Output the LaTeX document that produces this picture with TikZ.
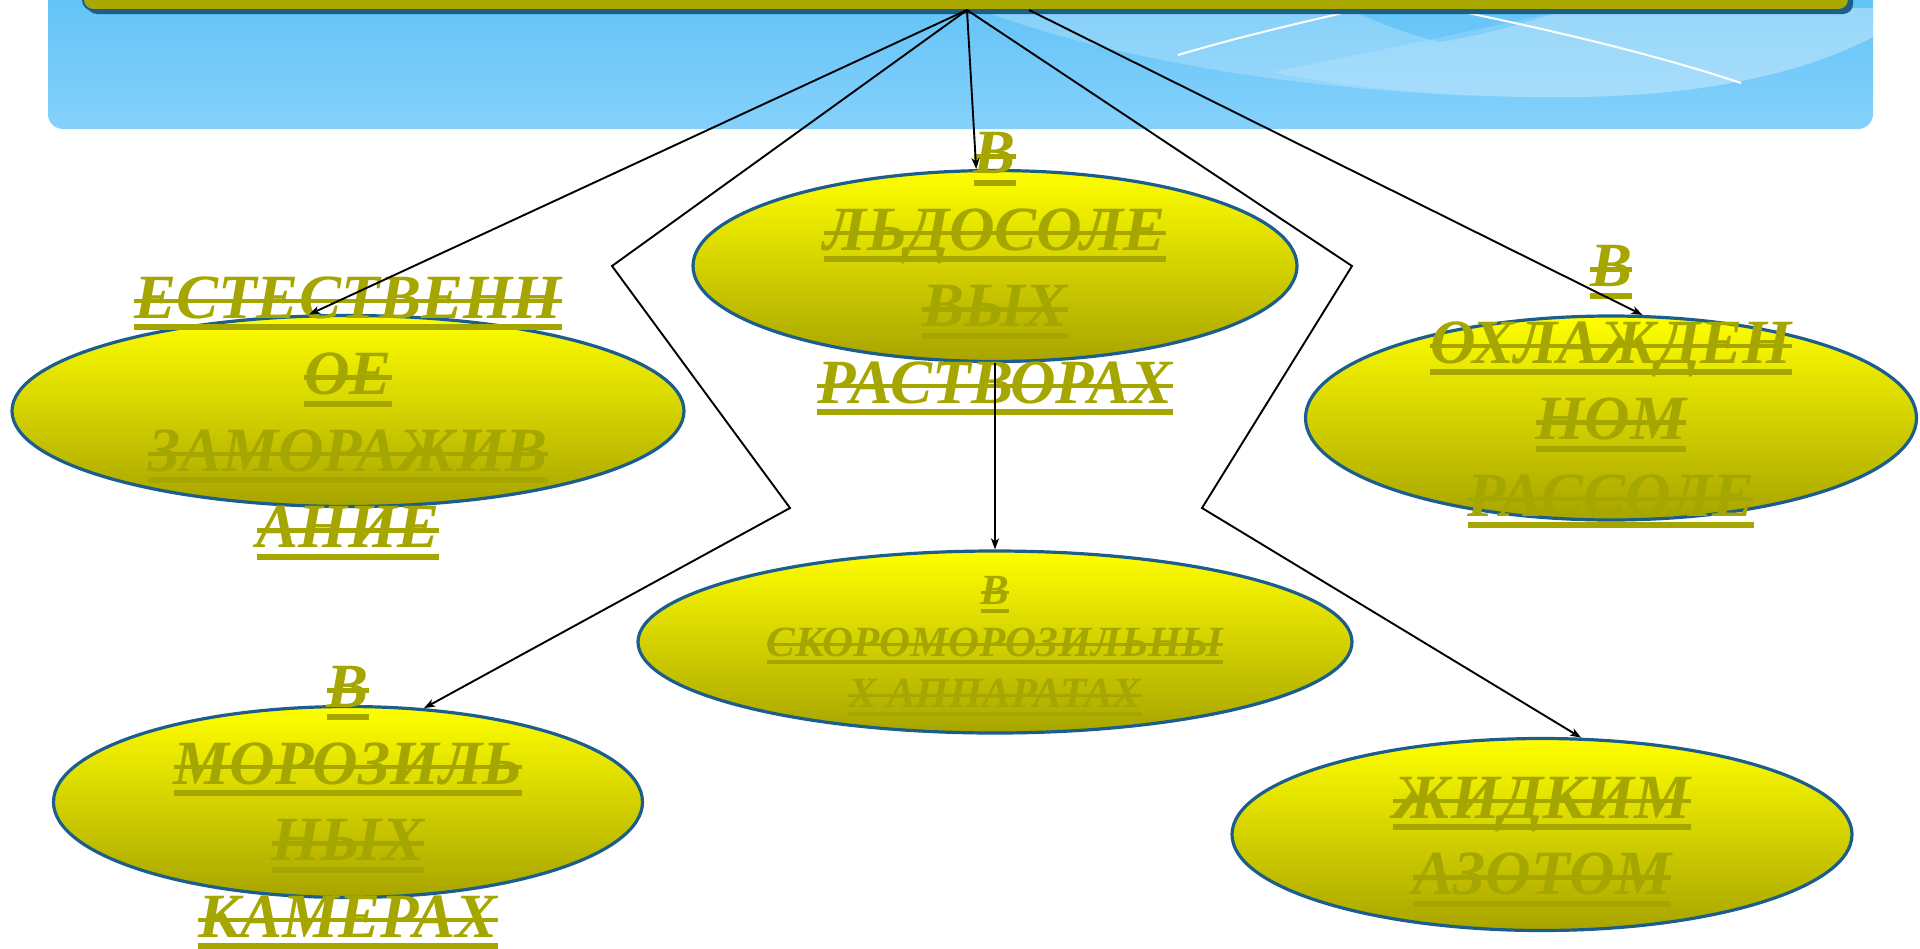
\documentclass[tikz,border=0pt]{standalone}
\usepackage{fontspec}
\setmainfont{Liberation Serif}
\usetikzlibrary{shapes.geometric,arrows.meta}
\definecolor{olivetxt}{HTML}{A6A600}
\definecolor{barfill}{HTML}{A8A800}
\definecolor{edgeblue}{HTML}{1B5E8C}
\definecolor{skytop}{HTML}{5EC1F6}
\definecolor{skybot}{HTML}{85D1FC}
\definecolor{yeltop}{HTML}{FFFF00}
\definecolor{yelbot}{HTML}{A8A400}
\newlength\uswd
\newcommand\ust[1]{\settowidth\uswd{#1}\makebox[0pt][l]{\rule[-0.19em]{\uswd}{0.095em}}\makebox[0pt][l]{\rule[0.24em]{\uswd}{0.07em}}#1}
\begin{document}
\begin{tikzpicture}[x=1pt,y=-1pt,
  oval/.style={ellipse, draw=edgeblue, line width=3.2pt, top color=yeltop, bottom color=yelbot, inner sep=0pt},
  lbl/.style={text=olivetxt, align=center, font=\bfseries\itshape\fontsize{63}{76.5}\selectfont, inner sep=0pt},
  lblsmall/.style={lbl, font=\bfseries\itshape\fontsize{43}{51.5}\selectfont},
  conn/.style={draw=black, line width=1.9pt, -{Stealth[length=11pt,width=8pt,inset=3pt]}},
]
\useasboundingbox (0,0) rectangle (1920,948);
% banner
\shade[top color=skytop, bottom color=skybot, rounded corners=15pt] (48,-20) rectangle (1873,129);
\begin{scope}
\clip[rounded corners=15pt] (48,-20) rectangle (1873,129);
\fill[white, opacity=0.22] (975,8) .. controls (1150,75) and (1400,100) .. (1580,97) .. controls (1700,95) and (1800,75) .. (1873,37) -- (1873,8) -- (1573,8) .. controls (1520,25) and (1470,38) .. (1439,42) .. controls (1410,35) and (1375,22) .. (1347,8) -- cycle;
\fill[white, opacity=0.15] (1273,72) .. controls (1380,50) and (1480,30) .. (1573,8) -- (1873,8) -- (1873,37) .. controls (1800,75) and (1700,95) .. (1580,97) .. controls (1450,98) and (1350,88) .. (1273,72) -- cycle;
\draw[white, line width=2pt] (1178,55) .. controls (1235,38) and (1295,24) .. (1347,12);
\draw[white, line width=2pt] (1463,12) .. controls (1560,32) and (1660,56) .. (1741,83);
\end{scope}
% olive bar
\fill[edgeblue, rounded corners=10pt] (87,-30) rectangle (1853,14);
\draw[fill=barfill, draw=edgeblue, line width=2pt, rounded corners=10pt] (83,-30) rectangle (1849,10);
% ellipses
\node[oval, minimum width=672pt, minimum height=191pt] (e1) at (348,411) {};
\node[oval, minimum width=604pt, minimum height=191pt] (e2) at (995,266) {};
\node[oval, minimum width=611pt, minimum height=204pt] (e3) at (1611,418) {};
\node[oval, minimum width=714pt, minimum height=182pt] (e4) at (995,642) {};
\node[oval, minimum width=589pt, minimum height=191pt] (e5) at (348,802) {};
\node[oval, minimum width=620pt, minimum height=192pt] (e6) at (1542,834.5) {};
% texts
\node[lbl] (t1) at (348,418) {\ust{ЕСТЕСТВЕНН}\\\ust{ОЕ}\\\ust{ЗАМОРАЖИВ}\\\ust{АНИЕ}};
\node[lbl] (t2) at (995,274) {\ust{В}\\\ust{ЛЬДОСОЛЕ}\\\ust{ВЫХ}\\\ust{РАСТВОРАХ}};
\node[lbl] (t3) at (1611,387) {\ust{В}\\\ust{ОХЛАЖДЕН}\\\ust{НОМ}\\\ust{РАССОЛЕ}};
\node[lblsmall] (t4) at (995,646) {\ust{В}\\\ust{СКОРОМОРОЗИЛЬНЫ}\\\ust{Х АППАРАТАХ}};
\node[lbl] (t5) at (348,808) {\ust{В}\\\ust{МОРОЗИЛЬ}\\\ust{НЫХ}\\\ust{КАМЕРАХ}};
\node[lbl] (t6) at (1542,842) {\ust{ЖИДКИМ}\\\ust{АЗОТОМ}};
% connectors
\coordinate (hub) at (967,10);
\coordinate (hubb) at (1029,10);
\coordinate (w1) at (612,266);
\coordinate (w2) at (790,508);
\coordinate (w3) at (1352,266);
\coordinate (w4) at (1202,508);
\draw[conn] (hub) -- (e1.112);
\draw[conn] (hub) -- (w1) -- (w2) -- (e5.51);
\draw[conn] (hub) -- (e2.101);
\draw[conn] (e2.south) -- (e4.north);
\draw[conn] (hub) -- (w3) -- (w4) -- (e6.68);
\draw[conn] (hubb) -- (e3.73);
\end{tikzpicture}
\end{document}
